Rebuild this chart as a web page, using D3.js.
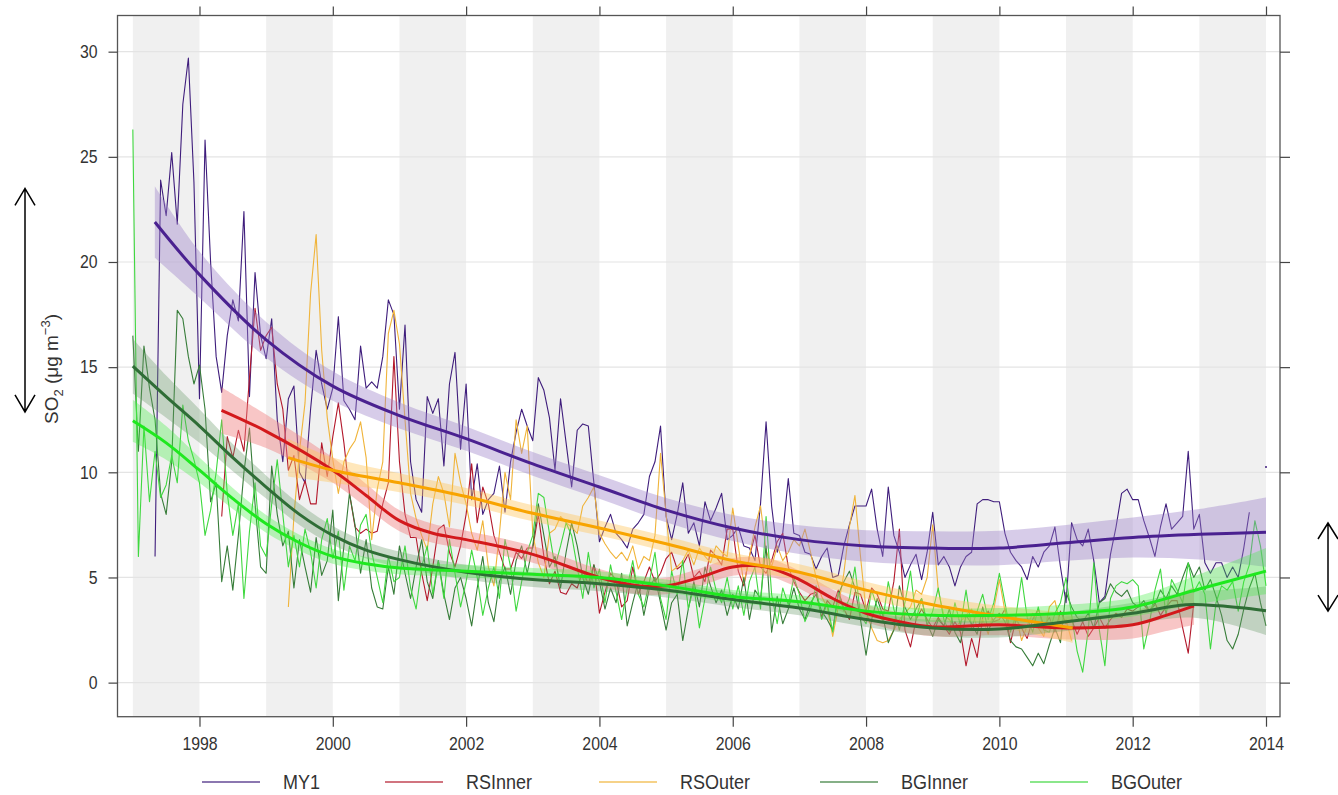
<!DOCTYPE html>
<html lang="en">
<head>
<meta charset="utf-8">
<title>SO2 trends</title>
<script src="https://d3js.org/d3.v7.min.js"></script>
<style>
  body { margin: 0; background: #fff; }
  svg { display: block; font-family: "Liberation Sans", Arial, sans-serif; }
  .Axis text { fill: #333; font-size: 18px; }
  .Axis line { stroke: #444; stroke-width: 1.2; }
</style>
</head>
<body>
<svg id="chart" width="1338" height="795"></svg>
<script>
// ---------- data (monthly means, ug m-3) ----------
const seriesNames = ["MY1", "RSInner", "RSOuter", "BGInner", "BGOuter"];

// first month of each raw series (decimal year)
const my1Start = 1997 + 4 / 12;
const rsInnerStart = 1998 + 4 / 12;
const rsOuterStart = 1999 + 4 / 12;
const bgInnerStart = 1997;
const bgOuterStart = 1997;

const my1Values = [
  6.0, 23.9, 22.2, 25.2, 21.8, 27.5, 29.7, 23.8,
  13.5, 25.8, 20.0, 15.5, 13.8, 16.5, 18.2, 17.2, 22.4, 13.6, 19.5, 16.5,
  15.4, 17.3, 12.5, 10.5, 13.5, 14.1, 10.0, 9.5, 13.0, 15.8, 14.2, 13.0,
  14.0, 17.4, 13.4, 13.0, 12.5, 16.0, 14.0, 14.3, 14.0, 15.5, 18.2, 17.5,
  13.0, 17.0, 10.5, 8.7, 8.1, 13.6, 12.8, 13.5, 10.3, 14.2, 15.7, 11.1,
  14.2, 8.7, 10.4, 8.0, 8.7, 9.0, 10.3, 8.1, 10.5, 11.9, 13.0, 12.2,
  11.5, 14.5, 13.9, 12.6, 10.1, 13.5, 11.4, 9.3, 12.0, 12.3, 12.2, 9.5,
  6.7, 7.4, 8.0, 7.1, 6.8, 6.4, 7.3, 7.6, 8.0, 9.8, 10.5, 12.2,
  7.9, 6.8, 8.0, 9.5, 7.1, 7.6, 6.5, 8.6, 7.7, 8.3, 9.0, 6.8,
  7.0, 7.4, 6.5, 6.4, 5.8, 8.5, 12.4, 8.4, 6.2, 7.1, 9.7, 7.1,
  7.0, 6.2, 6.1, 5.4, 6.0, 6.4, 5.0, 5.1, 6.5, 7.5, 8.4, 8.4,
  8.4, 9.2, 7.3, 6.0, 9.3, 7.0, 6.2, 5.0, 5.6, 6.1, 4.9, 6.2,
  8.1, 5.6, 6.0, 5.5, 4.6, 5.5, 6.0, 6.2, 8.5, 8.7, 8.7, 8.6,
  8.6, 7.1, 6.2, 5.8, 5.5, 4.9, 6.0, 5.5, 6.2, 6.5, 7.4, 5.5,
  3.8, 7.6, 6.8, 6.5, 7.3, 5.8, 3.8, 4.1, 6.1, 7.4, 9.0, 9.2,
  8.7, 8.7, 7.7, 6.9, 6.0, 7.4, 8.5, 7.3, 7.6, 7.9, 11.0, 7.3,
  8.0, 5.7, 5.2, 5.7, 5.7, 5.0, 5.5, 5.0, 6.4, 8.1
];
// lone MY1 value plotted at the very end
const my1LastPoint = [2014.0, 10.25];

const rsInnerValues = [
  7.9, 11.7, 10.7, 12.0, 11.0, 14.5, 17.8, 15.8,
  16.5, 16.9, 14.2, 13.0, 10.1, 10.8, 8.7, 9.6, 8.5, 8.5, 11.4, 9.8,
  11.7, 13.3, 11.4, 9.0, 7.4, 7.1, 7.3, 7.1, 7.2, 8.5, 9.5, 15.5,
  10.5, 8.0, 6.9, 6.9, 5.2, 3.9, 5.5, 7.3, 7.5, 6.2, 5.5, 6.5,
  8.0, 10.4, 7.6, 9.3, 8.5, 7.0, 6.2, 5.4, 5.4, 6.2, 5.9, 6.4,
  6.4, 8.0, 6.0, 4.7, 5.3, 4.3, 4.2, 4.7, 4.5, 5.3, 4.7, 5.6,
  3.3, 4.3, 5.2, 4.9, 3.6, 3.9, 5.5, 4.2, 4.8, 5.5, 4.8, 5.2,
  5.9, 6.2, 5.4, 5.6, 6.1, 5.0, 5.3, 4.8, 6.3, 6.0, 5.6, 7.3,
  7.3, 5.3, 4.6, 6.0, 7.0, 5.5, 5.2, 5.8, 6.7, 7.1, 5.5, 4.8,
  4.3, 3.9, 4.2, 4.3, 3.1, 3.9, 3.6, 4.4, 3.5, 3.0, 4.3, 4.2,
  3.4, 4.5, 4.2, 3.5, 3.4, 4.8, 7.3, 2.5, 1.7, 3.0, 3.5, 3.0,
  2.6, 3.1, 2.7, 2.3, 2.9, 2.4, 0.8, 2.1, 1.2, 3.1, 3.4, 2.9,
  3.0, 3.5, 1.9, 3.0, 2.6, 2.1, 3.0, 3.5, 2.7, 3.1, 2.4, 3.4,
  2.8, 3.0, 2.3, 2.9, 2.2, 2.6, 3.1, 2.6, 3.0, 3.3, 3.1, 3.5,
  3.4, 3.6, 3.7, 3.4, 3.8, 3.2, 3.6, 3.9, 3.9, 2.6, 1.4, 3.8
];

const rsOuterValues = [
  3.6, 7.9, 11.0, 13.3, 18.5, 21.3, 15.8, 12.6,
  10.6, 9.0, 10.5, 11.1, 11.5, 12.4, 10.7, 6.8, 9.2, 10.5, 16.6, 17.7,
  16.1, 12.5, 9.0, 7.8, 7.0, 6.3, 8.5, 9.8, 9.0, 7.4, 10.9, 9.5,
  8.5, 7.1, 6.3, 7.7, 5.5, 4.6, 7.1, 10.0, 8.7, 12.5, 10.9, 12.2,
  7.1, 5.7, 5.0, 7.1, 7.3, 7.9, 7.6, 7.4, 7.1, 8.4, 8.8, 9.3,
  7.1, 6.6, 6.2, 5.9, 6.2, 5.8, 6.5, 5.4, 6.0, 5.8, 7.0, 10.9,
  8.0, 5.3, 5.5, 5.8, 6.3, 5.6, 6.4, 6.0, 5.7, 6.5, 6.2, 6.0,
  8.3, 6.5, 4.7, 6.0, 7.4, 8.4, 6.3, 5.5, 6.5, 5.8, 6.2, 6.8,
  6.5, 7.3, 6.2, 5.0, 4.1, 3.6, 2.2, 3.6, 5.2, 7.4, 8.9, 6.0,
  3.4, 2.6, 2.0, 1.9, 2.0, 2.5, 3.0, 3.3, 3.6, 4.4, 4.2, 5.0,
  7.5, 4.4, 3.2, 3.0, 2.6, 2.9, 3.2, 3.5, 2.6, 3.0, 2.3, 3.5,
  4.9, 3.4, 2.5, 3.2, 2.0, 2.7, 3.3, 2.6, 2.2, 3.6, 3.9, 2.7,
  3.0, 2.0
];

const bgInnerValues = [
  16.5, 11.0, 16.0, 14.0, 12.5, 9.0, 8.0, 10.5, 17.7, 17.3, 15.5, 14.2,
  15.1, 13.0, 8.6, 9.5, 4.8, 6.5, 4.4, 7.0, 10.0, 12.1, 8.5, 5.5,
  5.2, 10.3, 8.0, 6.5, 7.2, 4.5, 6.8, 5.5, 4.3, 6.9, 5.1, 5.8,
  8.2, 3.9, 6.5, 9.0, 7.5, 5.2, 6.8, 4.5, 3.6, 3.5, 5.5, 4.2,
  6.5, 5.2, 4.0, 5.5, 6.8, 4.8, 4.0, 5.8, 4.2, 3.0, 4.5, 5.0,
  4.0, 2.7, 4.5, 6.0, 3.8, 2.9, 4.8, 5.5, 4.2, 5.8, 6.5, 5.2,
  6.5, 8.5, 7.0, 5.5, 6.0, 4.5, 6.2, 7.6, 6.5, 5.0, 4.2, 5.6,
  4.8, 3.5, 4.5, 3.8, 5.2, 2.7, 3.8, 4.8, 3.2, 4.5, 5.0, 3.8,
  2.5, 3.8, 4.2, 2.0, 3.5, 4.8, 3.6, 5.5, 4.6, 3.8, 4.4, 3.2,
  4.2, 3.5, 5.0, 3.0, 4.4, 4.0, 6.5, 2.4, 4.1, 2.8, 3.5, 4.5,
  3.5, 3.0, 3.8, 4.2, 3.4, 3.0, 2.5, 4.2, 4.8, 5.3, 4.5, 3.0,
  1.3, 3.0, 4.0, 3.2, 1.9, 2.5, 4.6, 3.6, 3.0, 3.5, 4.0, 2.8,
  2.2, 3.0, 2.7, 3.5, 2.4, 1.9, 3.2, 2.8, 2.3, 3.6, 2.5, 3.0,
  3.3, 2.9, 2.0, 1.7, 1.6, 1.2, 0.8, 1.4, 0.9, 1.8, 2.6, 1.9,
  4.3, 3.6, 3.1, 2.9, 3.3, 2.6, 3.8, 4.0, 4.7, 4.3, 4.1, 4.4,
  3.8, 3.6, 3.9, 3.4, 3.7, 4.4, 4.0, 4.6, 4.2, 5.0, 5.7, 5.0,
  5.5, 4.4, 4.9, 4.1, 3.2, 2.0, 1.6, 2.3, 3.5, 4.5, 5.2, 3.8,
  2.7
];

const bgOuterValues = [
  26.3, 6.0, 12.2, 8.6, 11.0, 8.8, 9.4, 10.8, 9.5, 13.2, 11.5, 10.6,
  9.5, 7.0, 8.2, 10.0, 12.5, 9.0, 7.0, 8.5, 4.0, 7.2, 9.5, 6.5,
  6.0, 8.5, 10.6, 8.0, 5.5, 7.0, 5.5, 7.3, 6.2, 4.5, 6.8, 7.8,
  5.9, 7.2, 4.4, 6.5, 5.8, 7.5, 8.0, 6.2, 5.0, 3.8, 6.0, 4.8,
  5.0, 6.5, 4.5, 3.5, 5.5, 6.5, 4.2, 5.8, 4.0, 6.8, 5.2, 3.6,
  4.8, 6.3, 5.0, 3.2, 4.5, 5.5, 4.0, 6.8, 5.5, 3.4, 4.8, 6.2,
  7.0, 9.0, 8.8, 7.1, 5.5, 6.5, 7.6, 7.0, 5.5, 4.0, 6.2, 4.5,
  5.4, 3.8, 5.6, 4.3, 3.0, 4.5, 5.8, 4.2, 3.6, 4.8, 6.2, 4.0,
  3.0, 5.3, 4.2, 5.8, 3.5, 4.6, 2.6, 4.0, 5.5, 4.4, 3.8, 5.0,
  3.5, 4.6, 3.2, 4.8, 5.5, 3.5, 7.9, 4.2, 2.8, 4.5, 3.7, 5.0,
  4.2, 2.9, 3.5, 4.6, 3.0, 3.8, 2.4, 4.3, 3.4, 4.0, 5.5, 3.2,
  2.8, 4.4, 3.6, 2.9, 4.8, 3.5, 2.5, 3.8, 5.3, 3.0, 4.0, 2.7,
  3.4, 4.5, 3.0, 2.4, 3.8, 2.7, 4.4, 2.6, 3.4, 4.2, 3.0, 3.8,
  5.2, 3.8, 2.4, 3.2, 5.0, 3.1, 2.4, 3.6, 2.5, 2.4, 3.3, 3.8,
  5.0, 3.2, 1.5, 0.5, 2.5, 5.7, 2.5, 0.8, 4.0, 4.6, 4.8, 4.7,
  4.9, 4.6, 1.6, 2.8, 4.4, 5.4, 3.2, 4.9, 4.4, 3.8, 5.7, 4.3,
  4.8, 4.2, 1.6, 3.8, 4.6, 4.4, 4.8, 3.4, 4.8, 5.6, 7.7, 6.5,
  4.6
];

// smooth trends: knot years, fitted values and half-width of the 95% band
const my1TrendYears = [1997.33, 1998, 1999, 2000, 2001, 2002, 2003, 2004, 2005, 2006, 2007, 2008, 2009, 2010, 2011, 2012, 2013, 2014];
const my1Trend      = [21.9, 19.4, 16.3, 14.1, 12.7, 11.6, 10.4, 9.3, 8.2, 7.35, 6.8, 6.5, 6.4, 6.4, 6.65, 6.9, 7.05, 7.15];
const my1TrendCI    = [1.7, 1.1, 0.85, 0.7, 0.62, 0.58, 0.56, 0.56, 0.58, 0.62, 0.68, 0.75, 0.8, 0.82, 0.85, 0.95, 1.2, 1.65];

const rsInnerTrendYears = [1998.33, 1999, 2000, 2000.5, 2001, 2001.5, 2002, 2003, 2004, 2004.6, 2005, 2005.5, 2006, 2006.5, 2007, 2007.5, 2008, 2008.5, 2009, 2010, 2011, 2012, 2012.5, 2012.92];
const rsInnerTrend      = [12.95, 11.95, 10.1, 8.9, 7.7, 7.1, 6.8, 6.1, 5.0, 4.6, 4.6, 5.0, 5.5, 5.5, 4.9, 4.0, 3.3, 2.9, 2.65, 2.75, 2.6, 2.75, 3.2, 3.65];
const rsInnerTrendCI    = [1.1, 0.8, 0.6, 0.55, 0.5, 0.45, 0.42, 0.4, 0.4, 0.4, 0.4, 0.42, 0.42, 0.42, 0.42, 0.42, 0.42, 0.45, 0.45, 0.5, 0.55, 0.65, 0.75, 0.9];

const rsOuterTrendYears = [1999.33, 2000, 2001, 2002, 2003, 2004, 2005, 2006, 2007, 2008, 2009, 2010, 2011.1];
const rsOuterTrend      = [10.7, 10.1, 9.5, 8.85, 8.05, 7.35, 6.6, 5.8, 5.25, 4.4, 3.7, 3.15, 2.6];
const rsOuterTrendCI    = [0.9, 0.6, 0.45, 0.4, 0.38, 0.36, 0.36, 0.36, 0.38, 0.4, 0.42, 0.5, 0.7];

const bgInnerTrendYears = [1997, 1997.5, 1998, 1998.5, 1999, 1999.5, 2000, 2000.5, 2001, 2002, 2003, 2004, 2005, 2006, 2007, 2008, 2009, 2010, 2011, 2012, 2012.8, 2013.3, 2014];
const bgInnerTrend      = [15.05, 13.6, 12.2, 10.7, 9.3, 8.0, 7.0, 6.3, 5.85, 5.25, 4.9, 4.7, 4.4, 3.95, 3.55, 3.0, 2.6, 2.55, 2.9, 3.3, 3.7, 3.65, 3.42];
const bgInnerTrendCI    = [1.3, 1.0, 0.8, 0.65, 0.55, 0.5, 0.45, 0.4, 0.38, 0.35, 0.35, 0.35, 0.35, 0.35, 0.35, 0.35, 0.38, 0.4, 0.45, 0.5, 0.6, 0.75, 1.15];

const bgOuterTrendYears = [1997, 1997.5, 1998, 1998.5, 1999, 1999.5, 2000, 2000.5, 2001, 2002, 2003, 2004, 2005, 2006, 2007, 2008, 2009, 2010, 2011, 2012, 2013, 2014];
const bgOuterTrend      = [12.45, 11.4, 10.1, 8.75, 7.55, 6.65, 6.0, 5.65, 5.45, 5.3, 5.15, 5.0, 4.6, 4.1, 3.85, 3.4, 3.2, 3.2, 3.3, 3.6, 4.45, 5.3];
const bgOuterTrendCI    = [1.0, 0.8, 0.6, 0.5, 0.42, 0.38, 0.35, 0.32, 0.3, 0.3, 0.3, 0.3, 0.3, 0.3, 0.3, 0.3, 0.32, 0.35, 0.4, 0.45, 0.7, 1.1];

const yTicks = [0, 5, 10, 15, 20, 25, 30];
const xTicks = [1998, 2000, 2002, 2004, 2006, 2008, 2010, 2012, 2014];
const stripeYears = [1997, 1999, 2001, 2003, 2005, 2007, 2009, 2011, 2013];

// ---------- styling ----------
const rawColors    = ["#3f1d7c", "#b3182b", "#f0b43a", "#367c38", "#3fd83f"];
const trendColors  = ["#4a2190", "#d3191c", "#f8a400", "#2f6d36", "#1fe81f"];
const bandColors   = ["#9b7fc7", "#f08080", "#ffc65c", "#6b9b6b", "#44ee44"];
const bandOpacity  = [0.4, 0.45, 0.42, 0.35, 0.35];
const legendX      = [202, 385, 599, 820, 1030];

const plotL = 117.5, plotR = 1280, plotT = 15.5, plotB = 716.7;

const svg = d3.select("#chart");

const x = d3.scaleLinear().domain([1996.77, 2014.21]).range([plotL, plotR]);
const y = d3.scaleLinear().domain([-1.62, 31.72]).range([plotB, plotT]);

// build month-indexed points
const monthly = (start, vals) => vals.map((v, i) => [start + i / 12, v]);
const raws = [
  monthly(my1Start, my1Values),
  monthly(rsInnerStart, rsInnerValues),
  monthly(rsOuterStart, rsOuterValues),
  monthly(bgInnerStart, bgInnerValues),
  monthly(bgOuterStart, bgOuterValues)
];
const trends = [
  [my1TrendYears, my1Trend, my1TrendCI],
  [rsInnerTrendYears, rsInnerTrend, rsInnerTrendCI],
  [rsOuterTrendYears, rsOuterTrend, rsOuterTrendCI],
  [bgInnerTrendYears, bgInnerTrend, bgInnerTrendCI],
  [bgOuterTrendYears, bgOuterTrend, bgOuterTrendCI]
].map(([yr, v, ci]) => yr.map((t, i) => ({ t: t, v: v[i], ci: ci[i] })));

// year stripes
svg.append("g").selectAll("rect")
   .data(stripeYears).enter()
   .append("rect")
   .attr("x", d => x(d))
   .attr("y", plotT)
   .attr("width", d => x(d + 1) - x(d))
   .attr("height", plotB - plotT)
   .attr("fill", "#f0f0f0");

// horizontal grid
svg.append("g").selectAll("line")
   .data(yTicks).enter()
   .append("line")
   .attr("x1", plotL).attr("x2", plotR)
   .attr("y1", d => y(d)).attr("y2", d => y(d))
   .attr("stroke", "#e4e4e4")
   .attr("stroke-width", 1.2);

// raw monthly lines
const rawLine = d3.line().x(d => x(d[0])).y(d => y(d[1]));
svg.append("g").selectAll("path")
   .data(raws).enter()
   .append("path")
   .attr("d", rawLine)
   .attr("fill", "none")
   .attr("stroke", (d, i) => rawColors[i])
   .attr("stroke-width", 1.1)
   .attr("stroke-linejoin", "round");

svg.append("circle")
   .attr("cx", x(my1LastPoint[0]))
   .attr("cy", y(my1LastPoint[1]))
   .attr("r", 1)
   .attr("fill", rawColors[0]);

// confidence bands
const curve = d3.curveCatmullRom.alpha(0.5);
const band = d3.area()
   .x(d => x(d.t))
   .y0(d => y(d.v - d.ci))
   .y1(d => y(d.v + d.ci))
   .curve(curve);
svg.append("g").selectAll("path")
   .data(trends).enter()
   .append("path")
   .attr("d", band)
   .attr("fill", (d, i) => bandColors[i])
   .attr("fill-opacity", (d, i) => bandOpacity[i]);

// smooth trend lines
const trendLine = d3.line().x(d => x(d.t)).y(d => y(d.v)).curve(curve);
svg.append("g").selectAll("path")
   .data(trends).enter()
   .append("path")
   .attr("d", trendLine)
   .attr("fill", "none")
   .attr("stroke", (d, i) => trendColors[i])
   .attr("stroke-width", 3);

// frame
svg.append("rect")
   .attr("x", plotL).attr("y", plotT)
   .attr("width", plotR - plotL).attr("height", plotB - plotT)
   .attr("fill", "none")
   .attr("stroke", "#555")
   .attr("stroke-width", 1.3);

// axes
const sx = 0.88;   // narrow-looking tick font
const gLeft = svg.append("g").attr("class", "Axis")
   .attr("transform", "translate(" + plotL + ",0)")
   .call(d3.axisLeft(y).tickValues(yTicks).tickSize(9));
gLeft.select(".domain").remove();
gLeft.selectAll("text")
   .attr("x", -20 / sx)
   .attr("transform", "scale(" + sx + ",1)");

const gBottom = svg.append("g").attr("class", "Axis")
   .attr("transform", "translate(0," + plotB + ")")
   .call(d3.axisBottom(x).tickValues(xTicks).tickSize(10).tickFormat(d3.format("d")));
gBottom.select(".domain").remove();
gBottom.selectAll("text")
   .attr("y", 21)
   .attr("transform", "scale(" + sx + ",1)");

const gTop = svg.append("g").attr("class", "Axis")
   .attr("transform", "translate(0," + plotT + ")")
   .call(d3.axisTop(x).tickValues(xTicks).tickSize(9).tickFormat(""));
gTop.select(".domain").remove();

const gRight = svg.append("g").attr("class", "Axis")
   .attr("transform", "translate(" + plotR + ",0)")
   .call(d3.axisRight(y).tickValues(yTicks).tickSize(10).tickFormat(""));
gRight.select(".domain").remove();

// y axis title
const yTitle = svg.append("text")
   .attr("transform", "translate(58,369) rotate(-90)")
   .attr("text-anchor", "middle")
   .attr("font-size", "19px")
   .attr("fill", "#333");
yTitle.append("tspan").text("SO");
yTitle.append("tspan").attr("dy", 5).attr("font-size", "13px").text("2");
yTitle.append("tspan").attr("dy", -5).text(" (\u03bcg m");
yTitle.append("tspan").attr("dy", -8).attr("font-size", "13px").text("\u22123");
yTitle.append("tspan").attr("dy", 8).text(")");

// double-headed arrows (annotation, in data units)
const arrows = [
  { px: 25, from: 23.5, to: 12.87, head: 17 },
  { px: 1328, from: 7.59, to: 3.4, head: 16 }
];
const ag = svg.append("g")
   .attr("fill", "none")
   .attr("stroke", "#000")
   .attr("stroke-width", 1.5);
arrows.forEach(a => {
  const y1 = y(a.from), y2 = y(a.to);
  ag.append("path").attr("d",
    "M" + a.px + "," + y1 + "V" + y2 +
    "M" + (a.px - 10) + "," + (y1 + a.head) + "L" + a.px + "," + y1 + "L" + (a.px + 10) + "," + (y1 + a.head) +
    "M" + (a.px - 10) + "," + (y2 - a.head) + "L" + a.px + "," + y2 + "L" + (a.px + 10) + "," + (y2 - a.head));
});

// legend
const lg = svg.append("g").selectAll("g")
   .data(seriesNames).enter()
   .append("g")
   .attr("transform", (d, i) => "translate(" + legendX[i] + ",782)");
lg.append("line")
   .attr("x1", 0).attr("x2", 58)
   .attr("stroke", (d, i) => rawColors[i])
   .attr("stroke-opacity", 0.8)
   .attr("stroke-width", 1.4);
lg.append("text")
   .attr("x", 81 / 0.9)
   .attr("dy", "0.36em")
   .attr("transform", "scale(0.9,1)")
   .attr("font-size", "20px")
   .attr("fill", "#333")
   .text(d => d);
</script>
</body>
</html>
